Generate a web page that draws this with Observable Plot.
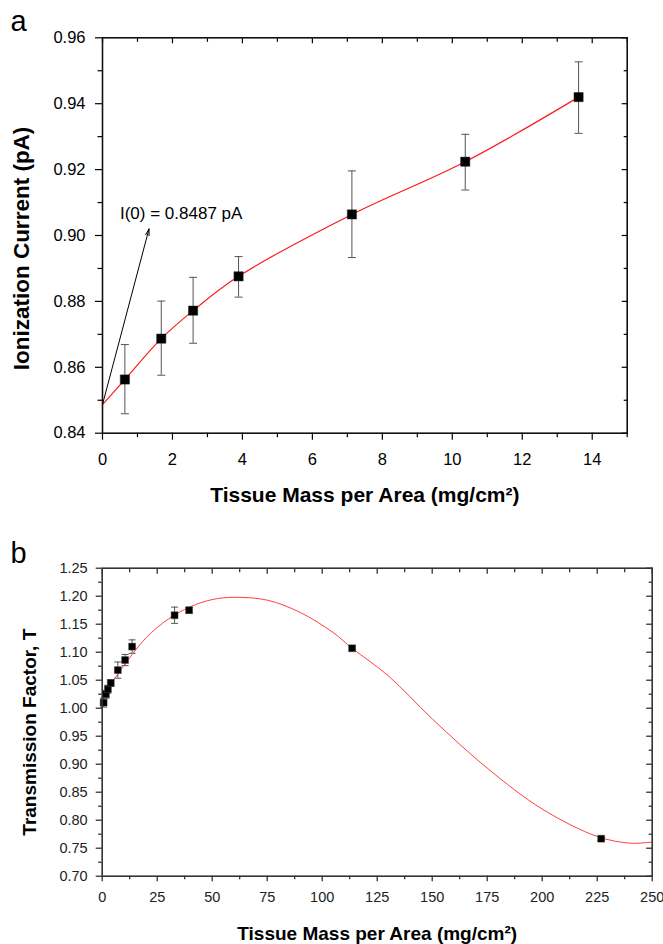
<!DOCTYPE html>
<html><head><meta charset="utf-8">
<script src="https://cdn.jsdelivr.net/npm/d3@7"></script>
<script src="https://cdn.jsdelivr.net/npm/@observablehq/plot@0.6"></script>
<style>
body{margin:0;background:#fff}
#chart svg{display:block}
</style>
</head><body><div id="chart"></div>
<script>
// ---------- Panel a data ----------
const massA = [0.64, 1.68, 2.59, 3.89, 7.13, 10.37, 13.61];
const currentA = [0.8563, 0.8687, 0.8772, 0.8876, 0.9064, 0.9224, 0.9420];
const currentLoA = [0.8459, 0.8576, 0.8673, 0.8813, 0.8933, 0.9138, 0.9310];
const currentHiA = [0.8669, 0.8801, 0.8873, 0.8936, 0.9196, 0.9307, 0.9527];
const fitMassA = [0, 0.64, 1.68, 2.59, 3.89, 7.13, 10.37, 13.61];
const fitCurrentA = [0.8487, 0.8563, 0.8687, 0.8772, 0.8876, 0.9064, 0.9224, 0.9420];
const xTicksA = [0, 2, 4, 6, 8, 10, 12, 14];
const xMinorA = [1, 3, 5, 7, 9, 11, 13, 15];
const yTicksA = [0.84, 0.86, 0.88, 0.90, 0.92, 0.94, 0.96];
const yMinorA = [0.85, 0.87, 0.89, 0.91, 0.93, 0.95];
const arrowFromA = [0, 0.8487];
const arrowToA = [1.33, 0.902];
const noteTextA = "I(0) = 0.8487 pA";
const noteXA = 0.5, noteYA = 0.9067;

// ---------- Panel b data ----------
const massB = [0.65, 1.7, 2.6, 3.9, 7.1, 10.4, 13.6, 32.9, 39.5, 113.6, 226.8];
const transB = [1.010, 1.025, 1.034, 1.045, 1.068, 1.086, 1.110, 1.166, 1.175, 1.107, 0.767];
const transErrB = [0.008, 0.007, 0.007, 0.006, 0.0145, 0.010, 0.012, 0.0145, 0.005, 0.003, 0.003];
const fitMassB = [0, 10, 20, 30, 40, 50, 60, 75, 90, 105, 113.6, 130, 150, 175, 200, 225, 240, 250];
const fitTransB = [1.020, 1.077, 1.126, 1.159, 1.181, 1.194, 1.198, 1.193, 1.171, 1.135, 1.107, 1.058, 0.981, 0.893, 0.820, 0.771, 0.759, 0.761];
const xTicksB = [0, 25, 50, 75, 100, 125, 150, 175, 200, 225, 250];
const xMinorB = [12.5, 37.5, 62.5, 87.5, 112.5, 137.5, 162.5, 187.5, 212.5, 237.5];
const yTicksB = [0.70, 0.75, 0.80, 0.85, 0.90, 0.95, 1.00, 1.05, 1.10, 1.15, 1.20, 1.25];
const yMinorB = [0.725, 0.775, 0.825, 0.875, 0.925, 0.975, 1.025, 1.075, 1.125, 1.175, 1.225];

const FONT = "'Liberation Sans', Arial, Helvetica, sans-serif";
const cap = {draw(ctx, size) { const w = Math.sqrt(size / Math.PI); ctx.moveTo(-w, 0); ctx.lineTo(w, 0); }};

function boxAxes(o) {
  return [
    Plot.axisX(o.xMajor, {anchor: "bottom", tickSize: o.bx, tickPadding: o.bpad, fontSize: o.fs, fill: o.tc, strokeWidth: 1.2, label: null, tickFormat: d => String(d)}),
    Plot.axisX(o.xMinor, {anchor: "bottom", tickSize: o.bxm, strokeWidth: 1.2, fill: "none", label: null}),
    Plot.axisX(o.xMajor, {anchor: "top", tickSize: o.tx, dy: o.tx, strokeWidth: 1.2, fill: "none", label: null}),
    Plot.axisX(o.xMinor, {anchor: "top", tickSize: o.txm, dy: o.txm, strokeWidth: 1.2, fill: "none", label: null}),
    Plot.axisY(o.yMajor, {anchor: "left", tickSize: o.ly, tickPadding: o.lpad, fontSize: o.fs, fill: o.tc, strokeWidth: 1.2, label: null, tickFormat: d3.format(".2f")}),
    Plot.axisY(o.yMinor, {anchor: "left", tickSize: o.lym, strokeWidth: 1.2, fill: "none", label: null}),
    Plot.axisY(o.yMajor, {anchor: "right", tickSize: o.ry, dx: -o.ry, strokeWidth: 1.2, fill: "none", label: null}),
    Plot.axisY(o.yMinor, {anchor: "right", tickSize: o.rym, dx: -o.rym, strokeWidth: 1.2, fill: "none", label: null}),
    Plot.frame({stroke: o.frameColor, strokeWidth: 1.6})
  ];
}

// ---------- Panel a ----------
const dataA = massA.map((m, i) => ({m, v: currentA[i], lo: currentLoA[i], hi: currentHiA[i]}));
const fitA = fitMassA.map((m, i) => ({m, v: fitCurrentA[i]}));
const arrowA = [{x1: arrowFromA[0], y1: arrowFromA[1], x2: arrowToA[0], y2: arrowToA[1]}];

const plotA = Plot.plot({
  width: 663, height: 515,
  marginLeft: 102, marginRight: 36.3, marginTop: 37.3, marginBottom: 82.3,
  style: {fontFamily: FONT, color: "black", background: "white"},
  x: {domain: [0, 15]},
  y: {domain: [0.84, 0.96]},
  marks: [
    Plot.ruleX(dataA, {x: "m", y1: "lo", y2: "hi", stroke: "#555", strokeWidth: 1}),
    Plot.dot(dataA, {x: "m", y: "lo", symbol: cap, r: 4, stroke: "#555", fill: "none", strokeWidth: 1}),
    Plot.dot(dataA, {x: "m", y: "hi", symbol: cap, r: 4, stroke: "#555", fill: "none", strokeWidth: 1}),
    Plot.line(fitA, {x: "m", y: "v", stroke: "#ff1a1a", strokeWidth: 1.2, curve: "catmull-rom"}),
    Plot.dot(dataA, {x: "m", y: "v", symbol: "square", r: 5.2, fill: "black", stroke: "#222", strokeWidth: 0.5}),
    Plot.arrow(arrowA, {x1: "x1", y1: "y1", x2: "x2", y2: "y2", stroke: "black", strokeWidth: 1, headLength: 10, headAngle: 30}),
    Plot.text([noteTextA], {x: noteXA, y: noteYA, text: d => d, textAnchor: "start", fontSize: 17, fill: "black"}),
    ...boxAxes({xMajor: xTicksA, xMinor: xMinorA, yMajor: yTicksA, yMinor: yMinorA,
      bx: 7, bxm: 4.5, bpad: 13, tx: 5, txm: 3.5, ly: 7, lym: 4.5, lpad: 10, ry: 6, rym: 4,
      fs: 16.5, tc: "black", frameColor: "#111"}),
    Plot.text(["Tissue Mass per Area (mg/cm²)"], {frameAnchor: "bottom", dy: 62.5, text: d => d, textAnchor: "middle", lineAnchor: "middle", fontSize: 21, fontWeight: "bold", fill: "black"}),
    Plot.text(["Ionization Current (pA)"], {frameAnchor: "left", rotate: -90, dx: -81, dy: 13, text: d => d, textAnchor: "middle", lineAnchor: "middle", fontSize: 22.5, fontWeight: "bold", fill: "black"}),
    Plot.text(["a"], {frameAnchor: "top-left", dx: -92, dy: -16.3, text: d => d, textAnchor: "start", lineAnchor: "middle", fontSize: 29, fill: "black"})
  ]
});

// ---------- Panel b ----------
const dataB = massB.map((m, i) => ({m, v: transB[i], lo: transB[i] - transErrB[i], hi: transB[i] + transErrB[i]}));
const fitB = fitMassB.map((m, i) => ({m, v: fitTransB[i]}));

const plotB = Plot.plot({
  width: 663, height: 429,
  marginLeft: 101.7, marginRight: 11.3, marginTop: 52.7, marginBottom: 68.3,
  style: {fontFamily: FONT, color: "#222", background: "white"},
  x: {domain: [0, 250]},
  y: {domain: [0.70, 1.25]},
  marks: [
    Plot.ruleX(dataB, {x: "m", y1: "lo", y2: "hi", stroke: "#555", strokeWidth: 1}),
    Plot.dot(dataB, {x: "m", y: "lo", symbol: cap, r: 3.5, stroke: "#555", fill: "none", strokeWidth: 1}),
    Plot.dot(dataB, {x: "m", y: "hi", symbol: cap, r: 3.5, stroke: "#555", fill: "none", strokeWidth: 1}),
    Plot.line(fitB, {x: "m", y: "v", stroke: "#ff4040", strokeWidth: 1, curve: "catmull-rom"}),
    Plot.dot(dataB, {x: "m", y: "v", symbol: "square", r: 3.9, fill: "black", stroke: "#444", strokeWidth: 0.5}),
    ...boxAxes({xMajor: xTicksB, xMinor: xMinorB, yMajor: yTicksB, yMinor: yMinorB,
      bx: 5.5, bxm: 3.5, bpad: 10.5, tx: 5, txm: 3.5, ly: 6, lym: 3.5, lpad: 8.5, ry: 6.5, rym: 4,
      fs: 14.5, tc: "#222", frameColor: "#333"}),
    Plot.text(["Tissue Mass per Area (mg/cm²)"], {frameAnchor: "bottom", dy: 58, text: d => d, textAnchor: "middle", lineAnchor: "middle", fontSize: 19, fontWeight: "bold", fill: "black"}),
    Plot.text(["Transmission Factor, T"], {frameAnchor: "left", rotate: -90, dx: -72, dy: 10, text: d => d, textAnchor: "middle", lineAnchor: "middle", fontSize: 19, fontWeight: "bold", fill: "black"}),
    Plot.text(["b"], {frameAnchor: "top-left", dx: -91.7, dy: -14, text: d => d, textAnchor: "start", lineAnchor: "middle", fontSize: 29, fill: "black"})
  ]
});

const root = document.getElementById("chart");
root.appendChild(plotA);
root.appendChild(plotB);
</script>
</body></html>
